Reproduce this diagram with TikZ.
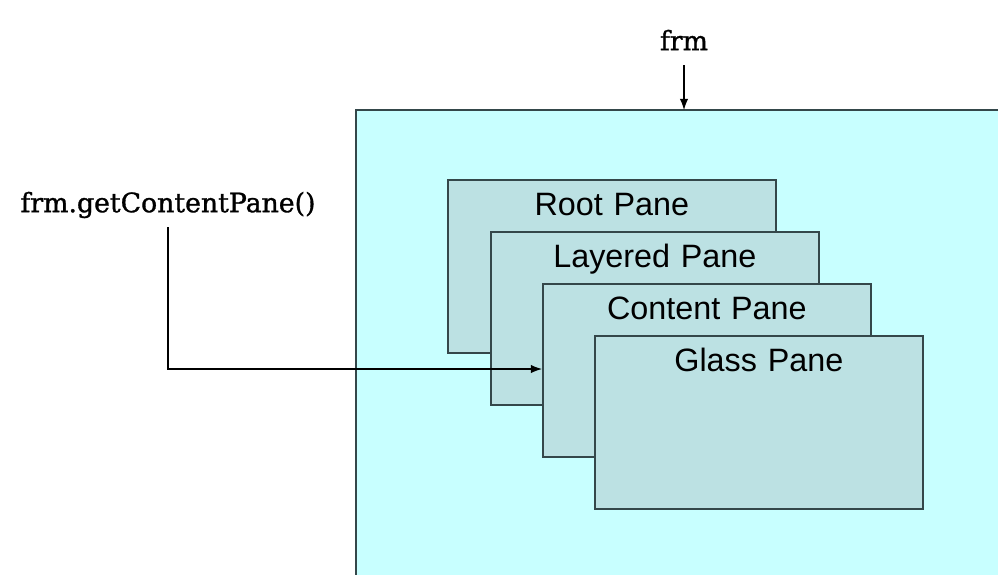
\documentclass[tikz,border=0pt]{standalone}
\usepackage{fontspec}
\setmainfont{Liberation Sans}
\newfontfamily\codefont[FakeBold=1.2]{DejaVu Serif}
\usetikzlibrary{positioning, arrows.meta}

\definecolor{framecyan}{HTML}{C8FFFF}
\definecolor{panefill}{HTML}{BCE1E3}
\definecolor{paneline}{HTML}{34474A}

\begin{document}
\begin{tikzpicture}[x=0.025cm, y=-0.025cm,
    pane/.style={draw=paneline, line width=1.2pt, fill=panefill,
                 anchor=north west, inner sep=0pt,
                 text width=8.2cm, align=center,
                 text height=0.9cm, text depth=3.43cm,
                 font=\fontsize{23}{26}\selectfont},
    code/.style={font=\codefont\fontsize{19}{22}\selectfont},
    ptr/.style={-{Latex[length=8pt, width=6pt]}, line width=0.8pt}]

  \useasboundingbox (0,0) rectangle (998,574);

  % the frame itself, running off the page
  \begin{scope}
    \clip (0,0) rectangle (998,574);
    \fill[framecyan] (356,110) rectangle (1010,590);
    \draw[paneline, line width=1.5pt] (356,590) -- (356,110) -- (1010,110);
  \end{scope}
  \coordinate (ftop) at (684,110);

  \node[pane] (root)    at (447,179) {Root Pane};
  \node[pane] (layered) at (490,231) {Layered Pane};
  \node[pane] (content) at (542,283) {Content Pane};
  \node[pane] (glass)   at (594,335) {Glass Pane};

  \node[code] (frm) at (684,40) {frm};
  \node[code] (getcp) at (168,205) {frm.getContentPane()};

  \draw[ptr] (frm.south) ++(0,-0.25cm) -- (ftop);
  \draw[ptr] (getcp.south) ++(0,-0.1cm) |- (content.west |- 0,369);

\end{tikzpicture}
\end{document}
